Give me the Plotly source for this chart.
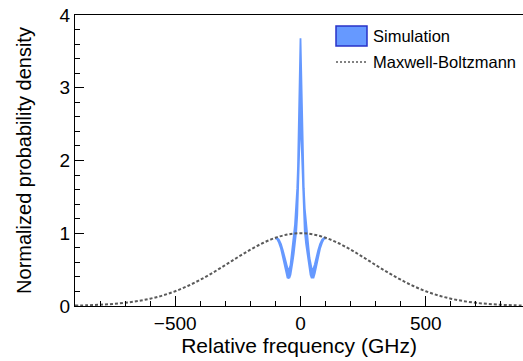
import plotly.graph_objects as go

# Maxwell-Boltzmann curve
mb_x = [-900, -850, -800, -750, -700, -650, -600, -550, -500, -450, -400, -350, -300, -250, -200, -150, -100, -50,
        0, 50, 100, 150, 200, 250, 300, 350, 400, 450, 500, 550, 600, 650, 700, 750, 800, 850, 900]
mb_y = [0.006, 0.010, 0.017, 0.028, 0.044, 0.068, 0.101, 0.145, 0.203, 0.275, 0.361, 0.458, 0.563, 0.671, 0.775, 0.866, 0.938, 0.984,
        1.0, 0.984, 0.938, 0.866, 0.775, 0.671, 0.563, 0.458, 0.361, 0.275, 0.203, 0.145, 0.101, 0.068, 0.044, 0.028, 0.017, 0.010, 0.006]

# Simulation band
sim_x = [-100, -93, -86, -78, -70, -62, -57, -52, -48, -44, -40, -36, -32, -27, -22, -17, -13, -10, -7, -5, -2,
         0, 2, 5, 7, 10, 13, 17, 22, 27, 32, 36, 40, 44, 48, 52, 57, 62, 70, 78, 86, 93, 100]
sim_upper = [0.94, 0.935, 0.91, 0.85, 0.76, 0.65, 0.57, 0.52, 0.50, 0.52, 0.56, 0.66, 0.80, 0.96, 1.12, 1.34, 1.62, 1.92, 2.38, 2.82, 3.36,
             3.68, 3.36, 2.82, 2.38, 1.92, 1.62, 1.34, 1.12, 0.96, 0.80, 0.66, 0.56, 0.52, 0.50, 0.52, 0.57, 0.65, 0.76, 0.85, 0.91, 0.935, 0.94]
sim_lower = [0.93, 0.92, 0.87, 0.79, 0.67, 0.54, 0.45, 0.39, 0.385, 0.39, 0.43, 0.50, 0.60, 0.72, 0.86, 1.03, 1.25, 1.50, 1.85, 2.15, 2.45,
             2.58, 2.45, 2.15, 1.85, 1.50, 1.25, 1.03, 0.86, 0.72, 0.60, 0.50, 0.43, 0.39, 0.385, 0.39, 0.45, 0.54, 0.67, 0.79, 0.87, 0.92, 0.93]

legend_labels = ["Simulation", "Maxwell-Boltzmann"]

fill_col = "rgb(102,153,255)"
edge_col = "rgb(40,50,200)"
mb_col = "rgb(90,90,90)"
font = "Liberation Sans, Arial, Helvetica, sans-serif"

fig = go.Figure()
fig.add_trace(go.Scatter(x=sim_x, y=sim_lower, mode="lines", line=dict(color=fill_col, width=1.8),
                         showlegend=False, hoverinfo="skip"))
fig.add_trace(go.Scatter(x=sim_x, y=sim_upper, mode="lines", line=dict(color=fill_col, width=1.8),
                         fill="tonexty", fillcolor=fill_col, showlegend=False, name=legend_labels[0]))
fig.add_trace(go.Scatter(x=mb_x, y=mb_y, mode="lines", line=dict(color=mb_col, width=2, dash="3px,2px", shape="spline"),
                         showlegend=False, name=legend_labels[1]))

# manual legend (plot area: x 75..523 px, y 15..306 px)
def px(xp):
    return (xp - 75) / 448.0

def py(yp):
    return (306 - yp) / 291.0

fig.add_shape(type="rect", xref="paper", yref="paper", x0=px(336), x1=px(367), y0=py(46), y1=py(26),
              fillcolor=fill_col, line=dict(color=edge_col, width=1.5))
fig.add_shape(type="line", xref="paper", yref="paper", x0=px(336), x1=px(367), y0=py(62), y1=py(62),
              line=dict(color=mb_col, width=1.5, dash="2px,2px"))
for lab, yc in zip(legend_labels, [36, 62]):
    fig.add_annotation(text=lab, xref="paper", yref="paper", x=px(371), y=py(yc), xanchor="left", yanchor="middle",
                       showarrow=False, font=dict(size=16.5, family=font, color="black"))

fig.update_layout(
    width=523, height=361,
    margin=dict(l=75, r=0, t=15, b=55),
    paper_bgcolor="white", plot_bgcolor="white",
    font=dict(family=font, color="black", size=18),
    showlegend=False,
    xaxis=dict(range=[-900, 888], showgrid=False, zeroline=False, showline=True, linecolor="black", linewidth=1,
               mirror=True, ticks="inside", ticklen=10, tickcolor="black", tickvals=[-500, 0, 500],
               ticktext=["\u2212500", "0", "500"], tickfont=dict(size=19), automargin=False,
               minor=dict(ticks="inside", ticklen=5, dtick=100, tick0=0, tickcolor="black", showgrid=False),
               title=dict(text="Relative frequency (GHz)", font=dict(size=21), standoff=4)),
    yaxis=dict(range=[0, 4], showgrid=False, zeroline=False, showline=True, linecolor="black", linewidth=1,
               ticks="inside", ticklen=9, tickcolor="black", dtick=1, tickfont=dict(size=19), automargin=False,
               minor=dict(ticks="inside", ticklen=5, dtick=0.2, tickcolor="black", showgrid=False),
               title=dict(text="Normalized probability density", font=dict(size=20), standoff=22)),
)

fig.write_html("out.html", config={"displayModeBar": False},
               post_script="document.body.style.margin='0px';document.body.style.overflow='hidden';")
